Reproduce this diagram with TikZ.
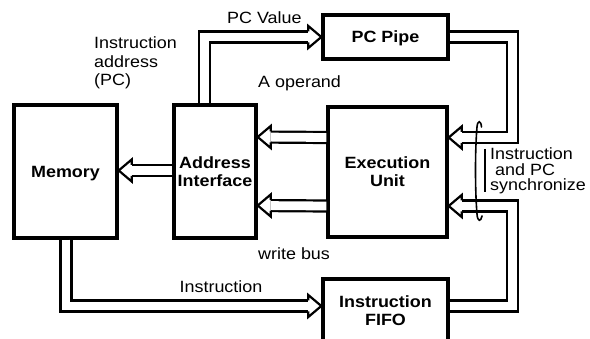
\documentclass[tikz,border=0pt]{standalone}
\usepackage{fontspec}
\setmainfont{Liberation Sans}[FakeStretch=1.1]
\usetikzlibrary{calc}

\tikzset{
  blk/.style={draw, line width=3.4pt, inner sep=0pt,
    font=\bfseries\fontsize{16.3}{18}\selectfont, align=center, text depth=0pt},
  pipe/.style={draw, line width=2.2pt, double=white, double distance=8.8pt,
    line join=miter, shorten >=13pt},
  headline/.style={line width=2.2pt, line join=miter},
  lbl/.style={inner sep=0pt, font=\fontsize{16.3}{18.7}\selectfont},
  pics/phead/.style={code={
    \draw[headline] (-13,5.5) -- (-13,11) -- (0,0) -- (-13,-11) -- (-13,-5.5);}}
}

\begin{document}
\begin{tikzpicture}[x=1pt, y=-1pt]
\useasboundingbox (0,0) rectangle (590,339);

% functional blocks
\node[blk, minimum width=103pt, minimum height=133pt] (mem)    at (65.5,171.5) {Memory};
\node[blk, minimum width=82pt,  minimum height=133pt] (addr)   at (215,171.5)  {Address\\Interface};
\node[blk, minimum width=119pt, minimum height=130pt] (exec)   at (387.5,172)  {Execution\\Unit};
\node[blk, minimum width=125pt, minimum height=44pt]  (pcpipe) at (385.5,37)   {PC Pipe};
\node[blk, minimum width=125pt, minimum height=63pt]  (fifo)   at (385.5,310.5) {Instruction\\FIFO};

% PC value: address interface -> PC pipe
\draw[pipe] ([xshift=-10.25pt]addr.north) |- (pcpipe.west);
\pic at (pcpipe.west) {phead};

% PC pipe -> execution unit
\draw[pipe] (pcpipe.east) -- ++(62.5,0) |- ([yshift=34.5pt]exec.east);
\pic[rotate=180] at ([yshift=34.5pt]exec.east) {phead};

% instruction FIFO -> execution unit
\draw[pipe] ([yshift=4.5pt]fifo.east) -- ++(62.5,0) |- ([yshift=-34pt]exec.east);
\pic[rotate=180] at ([yshift=-34pt]exec.east) {phead};

% A operand and write bus
\draw[pipe] ([yshift=34.5pt]exec.west) -- ([yshift=34.5pt]addr.east);
\pic[rotate=180] at ([yshift=34.5pt]addr.east) {phead};
\draw[pipe] ([yshift=-34pt]exec.west) -- ([yshift=-34pt]addr.east);
\pic[rotate=180] at ([yshift=-34pt]addr.east) {phead};

% instruction address to memory
\draw[pipe] ([yshift=1pt]addr.west) -- ([yshift=1pt]mem.east);
\pic[rotate=180] at ([yshift=1pt]mem.east) {phead};

% instruction: memory -> FIFO
\draw[pipe] ([xshift=0.5pt]mem.south) |- ([yshift=4.5pt]fifo.west);
\pic at ([yshift=4.5pt]fifo.west) {phead};

% labels
\node[lbl, anchor=base west] (pcval) at (227,24) {PC Value};
\node[lbl, anchor=north west, align=left] (iaddr) at (94,36.5) {Instruction\\address\\(PC)};
\node[lbl, anchor=base west] (aop) at (258,87.5) {A operand};
\node[lbl, anchor=base west] (wbus) at (258,260) {write bus};
\node[lbl, anchor=base] (instr) at (221,293) {Instruction};
\node[lbl, anchor=north west, align=left, font=\fontsize{16.3}{15.5}\selectfont] (sync)
  at (490,147.5) {Instruction\\\hspace*{5pt}and PC\\synchronize};

% synchronization mark across the two inputs
\draw[line width=1.6pt, line cap=round]
  (481.5,127) .. controls (481,120) and (477.5,120) .. (477,127)
  .. controls (475,150) and (475,190) .. (477,214)
  .. controls (477.5,222) and (481,222) .. (482,216);
\draw[line width=2.2pt] (485,149) -- (485,192);
\end{tikzpicture}
\end{document}
